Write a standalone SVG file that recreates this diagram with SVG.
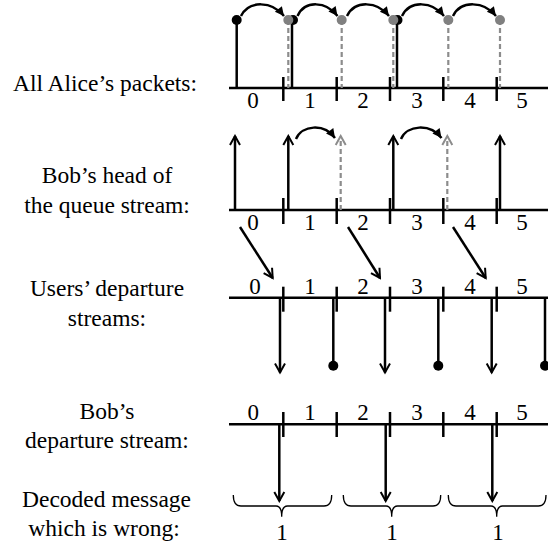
<svg xmlns="http://www.w3.org/2000/svg" width="548" height="544" viewBox="0 0 548 544" font-family="'Liberation Serif', 'DejaVu Serif', serif">
<style>
text{font-family:'Liberation Serif','DejaVu Serif',serif;fill:#000}
.lbl{font-size:23.5px;text-anchor:middle}
.num{font-size:23px;text-anchor:middle}
.ax{stroke:#000;stroke-width:2.5;fill:none}
.tk{stroke:#000;stroke-width:2.5}
.bl{stroke:#000;stroke-width:2.5;fill:none}
.gd{stroke:#8c8c8c;stroke-width:2.2;stroke-dasharray:5,3;fill:none}
.arc{stroke:#000;stroke-width:2.5;fill:none}
.br{stroke:#000;stroke-width:1.3;fill:none}
</style>
<defs>
<marker id="fh" markerUnits="userSpaceOnUse" viewBox="-10 -6 12 12" refX="0" refY="0" markerWidth="12" markerHeight="12" orient="auto">
<path d="M-9,-4.5 L0,0 L-9,4.5 Z" fill="#000"/>
</marker>
<marker id="ch" markerUnits="userSpaceOnUse" viewBox="-12 -7 14 14" refX="0" refY="0" markerWidth="14" markerHeight="14" orient="auto">
<path d="M-9,-5 L0,0 L-9,5" fill="none" stroke="#000" stroke-width="2"/>
</marker>
<marker id="chg" markerUnits="userSpaceOnUse" viewBox="-12 -7 14 14" refX="0" refY="0" markerWidth="14" markerHeight="14" orient="auto">
<path d="M-9,-5 L0,0 L-9,5" fill="none" stroke="#8c8c8c" stroke-width="2"/>
</marker>
</defs>

<g id="labels" font-family="'Liberation Serif', 'DejaVu Serif', serif">
<text class="lbl" x="105" y="91">All Alice’s packets:</text>
<text class="lbl" x="107" y="183">Bob’s head of</text>
<text class="lbl" x="107" y="213">the queue stream:</text>
<text class="lbl" x="107" y="296">Users’ departure</text>
<text class="lbl" x="107" y="326">streams:</text>
<text class="lbl" x="107" y="419">Bob’s</text>
<text class="lbl" x="107" y="448">departure stream:</text>
<text class="lbl" x="106.5" y="507">Decoded message</text>
<text class="lbl" x="104" y="536">which is wrong:</text>
</g>

<g id="row1">
<line class="ax" x1="229" y1="88" x2="548" y2="88"/>
<g class="tk"><line x1="283.3" y1="77" x2="283.3" y2="101"/><line x1="336.7" y1="77" x2="336.7" y2="101"/><line x1="390" y1="77" x2="390" y2="101"/><line x1="443.3" y1="77" x2="443.3" y2="101"/><line x1="496.7" y1="77" x2="496.7" y2="101"/></g>
<g class="num"><text x="253" y="108">0</text><text x="310" y="108">1</text><text x="363" y="108">2</text><text x="417" y="108">3</text><text x="470" y="108">4</text><text x="522" y="108">5</text></g>
<line class="bl" x1="236.7" y1="20" x2="236.7" y2="88"/>
<line class="bl" x1="292" y1="20" x2="292" y2="88"/>
<line class="bl" x1="397" y1="20" x2="397" y2="88"/>
<circle cx="236.7" cy="20" r="5" fill="#000"/>
<circle cx="293" cy="20" r="5" fill="#000"/>
<circle cx="397.5" cy="20" r="5" fill="#000"/>
<line class="gd" x1="288.3" y1="20" x2="288.3" y2="88"/>
<line class="gd" x1="341.7" y1="20" x2="341.7" y2="88"/>
<line class="gd" x1="393.3" y1="20" x2="393.3" y2="88"/>
<line class="gd" x1="448.3" y1="20" x2="448.3" y2="88"/>
<line class="gd" x1="500" y1="20" x2="500" y2="88"/>
<g fill="#808080"><circle cx="288.3" cy="20" r="5"/><circle cx="341.7" cy="20" r="5"/><circle cx="393.3" cy="20" r="5"/><circle cx="448.3" cy="20" r="5"/><circle cx="500" cy="20" r="5"/></g>
</g>

<g id="row2">
<line class="ax" x1="229" y1="210" x2="548" y2="210"/>
<g class="tk"><line x1="283.3" y1="198" x2="283.3" y2="224"/><line x1="336.7" y1="198" x2="336.7" y2="224"/><line x1="390" y1="198" x2="390" y2="224"/><line x1="443.3" y1="198" x2="443.3" y2="224"/><line x1="496.7" y1="198" x2="496.7" y2="224"/></g>
<g class="num"><text x="253" y="230">0</text><text x="310" y="230">1</text><text x="363" y="230">2</text><text x="417" y="230">3</text><text x="470" y="230">4</text><text x="522" y="230">5</text></g>
<line class="bl" x1="235" y1="210" x2="235" y2="136" marker-end="url(#ch)"/>
<line class="bl" x1="288.3" y1="210" x2="288.3" y2="136" marker-end="url(#ch)"/>
<line class="bl" x1="393.3" y1="210" x2="393.3" y2="136" marker-end="url(#ch)"/>
<line class="bl" x1="500" y1="210" x2="500" y2="136" marker-end="url(#ch)"/>
<line class="gd" x1="340.7" y1="210" x2="340.7" y2="136" marker-end="url(#chg)"/>
<line class="gd" x1="447.3" y1="210" x2="447.3" y2="136" marker-end="url(#chg)"/>
</g>

<g id="row3">
<line class="ax" x1="229" y1="297.7" x2="548" y2="297.7"/>
<g class="tk"><line x1="283.3" y1="286.7" x2="283.3" y2="311.7"/><line x1="336.7" y1="286.7" x2="336.7" y2="311.7"/><line x1="390" y1="286.7" x2="390" y2="311.7"/><line x1="443.3" y1="286.7" x2="443.3" y2="311.7"/><line x1="496.7" y1="286.7" x2="496.7" y2="311.7"/></g>
<g class="num"><text x="255" y="294">0</text><text x="310" y="294">1</text><text x="363" y="294">2</text><text x="417" y="294">3</text><text x="470" y="294">4</text><text x="522" y="294">5</text></g>
<line class="bl" x1="280" y1="297.7" x2="280" y2="372.5" marker-end="url(#ch)"/>
<line class="bl" x1="385" y1="297.7" x2="385" y2="372.5" marker-end="url(#ch)"/>
<line class="bl" x1="491.7" y1="297.7" x2="491.7" y2="372.5" marker-end="url(#ch)"/>
<line class="bl" x1="333.3" y1="297.7" x2="333.3" y2="365.7"/>
<line class="bl" x1="438.3" y1="297.7" x2="438.3" y2="365.7"/>
<line class="bl" x1="545" y1="297.7" x2="545" y2="365.7"/>
<g fill="#000"><circle cx="333.3" cy="365.7" r="5"/><circle cx="438.3" cy="365.7" r="5"/><circle cx="545" cy="365.7" r="5"/></g>
</g>

<g id="row4">
<line class="ax" x1="229" y1="424.3" x2="548" y2="424.3"/>
<g class="tk"><line x1="283.3" y1="412" x2="283.3" y2="437"/><line x1="336.7" y1="412" x2="336.7" y2="437"/><line x1="390" y1="412" x2="390" y2="437"/><line x1="443.3" y1="412" x2="443.3" y2="437"/><line x1="496.7" y1="412" x2="496.7" y2="437"/></g>
<g class="num"><text x="253.3" y="420">0</text><text x="310" y="420">1</text><text x="363" y="420">2</text><text x="417" y="420">3</text><text x="470" y="420">4</text><text x="522" y="420">5</text></g>
<line class="bl" x1="279.3" y1="424.3" x2="279.3" y2="501" marker-end="url(#ch)"/>
<line class="bl" x1="385.7" y1="424.3" x2="385.7" y2="501" marker-end="url(#ch)"/>
<line class="bl" x1="492.3" y1="424.3" x2="492.3" y2="501" marker-end="url(#ch)"/>
</g>

<g id="decoded">
<path class="br" d="M233.3,495 Q233.3,506 241,506 L276,506 Q281.7,506 281.7,516.7 Q281.7,506 287.5,506 L324,506 Q331.7,506 331.7,495"/>
<path class="br" d="M343.3,495 Q343.3,506 351,506 L386,506 Q391.7,506 391.7,516.7 Q391.7,506 397.5,506 L433,506 Q440.7,506 440.7,495"/>
<path class="br" d="M448.3,495 Q448.3,506 456,506 L491,506 Q496.7,506 496.7,516.7 Q496.7,506 502.5,506 L538.3,506 Q546,506 546,495"/>
<g class="num"><text x="282" y="540">1</text><text x="392" y="540">1</text><text x="498" y="540">1</text></g>
</g>

<g id="connectors">
<path class="arc" d="M241,16 C249,0 272,1 284,16" marker-end="url(#fh)"/>
<path class="arc" d="M297.5,16 C305,0 326,1 337.5,16" marker-end="url(#fh)"/>
<path class="arc" d="M347,16 C355,0 377,1 389,16" marker-end="url(#fh)"/>
<path class="arc" d="M402,16 C410,0 432,1 444,16" marker-end="url(#fh)"/>
<path class="arc" d="M453,16 C461,0 484,1 496,16" marker-end="url(#fh)"/>
<path class="arc" d="M296,139 C302,125 324,123 335,138" marker-end="url(#fh)"/>
<path class="arc" d="M401,139 C407,125 430,123 441.5,138" marker-end="url(#fh)"/>
<line class="bl" x1="240" y1="227" x2="272.7" y2="278" marker-end="url(#ch)"/>
<line class="bl" x1="348" y1="227" x2="380" y2="278" marker-end="url(#ch)"/>
<line class="bl" x1="453" y1="227" x2="485.7" y2="278" marker-end="url(#ch)"/>
</g>
</svg>
